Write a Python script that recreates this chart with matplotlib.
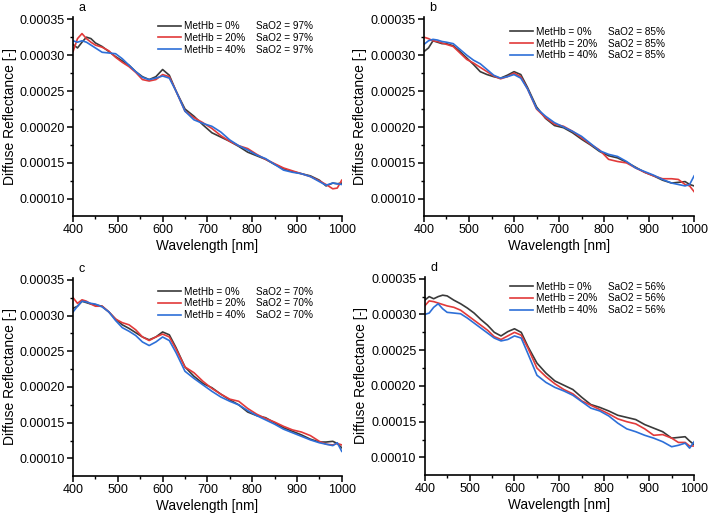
import numpy as np
import matplotlib
matplotlib.use('Agg')
import matplotlib.pyplot as plt
from matplotlib.ticker import MultipleLocator

plt.rcParams['font.family'] = ['Liberation Sans', 'DejaVu Sans']

# wavelength grid [nm]
wl = [400, 410, 420, 430, 440, 450, 465, 480, 495, 510, 525, 540, 555, 570, 585, 600, 615, 630,
      650, 670, 690, 710, 730, 750, 770, 790, 810, 830, 850, 870, 890, 910, 930, 950, 965, 980, 990, 1000]

# diffuse reflectance, units of 1e-5
a_0 = [31.5, 31.0, 31.8, 32.5, 32.3, 31.7, 31.2, 30.5, 29.8, 29.2, 28.6, 27.7, 27.0, 26.6, 27.0, 28.0, 27.2, 25.0,
       22.5, 21.5, 20.3, 19.2, 18.6, 18.0, 17.3, 16.5, 16.0, 15.5, 14.8, 14.2, 13.8, 13.5, 13.2, 12.6, 11.8, 12.2, 12.1, 12.2]
a_20 = [30.5, 32.3, 33.0, 32.3, 31.8, 31.4, 31.1, 30.6, 29.7, 29.0, 28.4, 27.6, 26.6, 26.4, 26.6, 27.3, 27.0, 25.0,
        22.2, 21.3, 20.6, 19.8, 18.8, 18.0, 17.4, 17.0, 16.2, 15.5, 14.9, 14.3, 13.9, 13.5, 13.1, 12.5, 12.0, 11.4, 11.5, 12.6]
a_40 = [32.0, 31.8, 32.0, 31.8, 31.4, 31.0, 30.4, 30.3, 30.2, 29.5, 28.6, 27.7, 26.9, 26.6, 26.8, 27.1, 26.8, 25.0,
        22.2, 21.0, 20.5, 20.1, 19.3, 18.2, 17.4, 16.8, 16.1, 15.6, 14.8, 14.0, 13.7, 13.5, 13.1, 12.4, 11.9, 12.2, 12.1, 12.0]

b_0 = [30.5, 31.0, 32.0, 31.8, 31.6, 31.6, 31.3, 30.5, 29.6, 28.7, 27.7, 27.3, 27.0, 26.8, 27.2, 27.7, 27.3, 25.5,
       22.8, 21.2, 20.2, 19.9, 19.2, 18.3, 17.5, 16.6, 16.0, 15.7, 15.1, 14.4, 13.7, 13.2, 12.6, 12.2, 12.3, 12.4, 12.0, 11.8]
b_20 = [32.5, 32.3, 32.0, 31.9, 31.7, 31.5, 31.2, 30.3, 29.4, 28.9, 28.3, 27.7, 27.1, 26.7, 27.0, 27.5, 27.0, 25.3,
        22.5, 21.3, 20.4, 20.1, 19.4, 18.5, 17.6, 16.8, 15.5, 15.2, 15.0, 14.3, 13.7, 13.2, 12.8, 12.8, 12.7, 12.0, 11.8, 11.0]
b_40 = [31.5, 32.0, 32.2, 32.1, 31.9, 31.8, 31.6, 30.8, 30.0, 29.3, 28.8, 28.0, 27.2, 26.8, 27.0, 27.3, 26.8, 25.3,
        22.6, 21.5, 20.6, 20.0, 19.4, 18.7, 17.7, 16.7, 16.2, 15.9, 15.2, 14.3, 13.8, 13.3, 12.7, 12.2, 12.0, 11.8, 12.0, 13.2]

c_0 = [31.0, 31.3, 32.0, 31.8, 31.6, 31.5, 31.3, 30.5, 29.5, 28.7, 28.2, 27.6, 27.0, 26.6, 27.0, 27.7, 27.3, 25.5,
       22.8, 21.5, 20.5, 19.9, 19.0, 18.2, 17.5, 16.5, 16.0, 15.7, 15.0, 14.3, 13.8, 13.3, 12.7, 12.3, 12.3, 12.4, 12.1, 11.5]
c_20 = [32.5, 31.7, 32.2, 32.0, 31.6, 31.3, 31.3, 30.5, 29.5, 29.0, 28.7, 28.0, 27.0, 26.5, 27.0, 27.4, 27.0, 25.3,
        22.8, 22.0, 20.8, 19.8, 19.0, 18.3, 18.0, 17.0, 16.2, 15.6, 15.1, 14.5, 14.0, 13.7, 13.2, 12.4, 12.0, 11.9, 12.1, 11.9]
c_40 = [30.5, 31.3, 32.0, 31.9, 31.7, 31.6, 31.2, 30.5, 29.3, 28.3, 27.8, 27.2, 26.3, 25.8, 26.3, 27.0, 26.5, 24.8,
        22.2, 21.2, 20.3, 19.4, 18.6, 18.0, 17.5, 16.7, 16.0, 15.4, 14.8, 14.1, 13.6, 13.1, 12.6, 12.2, 12.0, 11.8, 12.2, 11.0]

d_0 = [32.0, 32.5, 32.2, 32.5, 32.7, 32.6, 32.0, 31.5, 30.9, 30.2, 29.3, 28.5, 27.5, 27.0, 27.6, 28.0, 27.5, 25.5,
       23.2, 21.8, 20.7, 20.1, 19.5, 18.4, 17.4, 17.0, 16.5, 15.9, 15.6, 15.3, 14.6, 14.1, 13.6, 12.7, 12.8, 12.9, 12.3, 11.8]
d_20 = [31.2, 31.9, 31.8, 31.6, 31.4, 31.2, 31.0, 30.6, 29.9, 29.2, 28.5, 27.8, 26.9, 26.5, 27.0, 27.5, 27.1, 25.3,
        22.5, 21.3, 20.3, 19.5, 18.9, 17.9, 17.3, 16.7, 16.1, 15.4, 15.0, 14.7, 14.0, 13.1, 13.2, 12.7, 12.1, 12.1, 11.6, 11.6]
d_40 = [30.0, 30.2, 31.0, 31.5, 30.8, 30.3, 30.2, 30.1, 29.5, 28.8, 28.1, 27.4, 26.7, 26.3, 26.5, 27.0, 26.7, 24.5,
        21.5, 20.5, 19.8, 19.3, 18.7, 17.8, 16.9, 16.5, 15.8, 14.8, 14.0, 13.6, 13.1, 12.7, 12.2, 11.5, 11.7, 12.0, 11.3, 12.2]

metHb = ['0%', '20%', '40%']
sao2 = ['97%', '85%', '70%', '56%']
panel_names = ['a', 'b', 'c', 'd']
panels = [[a_0, a_20, a_40], [b_0, b_20, b_40], [c_0, c_20, c_40], [d_0, d_20, d_40]]
colors = ['#3a3a3a', '#e23a3a', '#2d6fd8']

# axes placement [left, bottom, width, height] and legend anchor y
boxes = [[0.103, 0.582, 0.379, 0.385], [0.598, 0.582, 0.381, 0.385],
         [0.103, 0.080, 0.379, 0.383], [0.599, 0.082, 0.380, 0.383]]
leg_y = [0.98, 0.951, 0.955, 0.975]

fig = plt.figure(figsize=(7.09, 5.17), dpi=100)
axes = []
for i in range(4):
    ax = fig.add_axes(boxes[i])
    for j in range(3):
        ax.plot(wl, np.array(panels[i][j]) * 1e-5, color=colors[j], lw=1.2,
                label='MetHb = ' + metHb[j])
    ax.set_xlim(400, 1000)
    ax.set_ylim(7.6e-5, 3.53e-4)
    ax.xaxis.set_major_locator(MultipleLocator(100))
    ax.xaxis.set_minor_locator(MultipleLocator(50))
    ax.yaxis.set_major_locator(MultipleLocator(5e-5))
    ax.yaxis.set_minor_locator(MultipleLocator(2.5e-5))
    ax.yaxis.set_major_formatter(plt.FuncFormatter(lambda v, p: '%.5f' % v))
    ax.spines['top'].set_visible(False)
    ax.spines['right'].set_visible(False)
    ax.spines['left'].set_linewidth(1.2)
    ax.spines['bottom'].set_linewidth(1.2)
    ax.tick_params(which='major', direction='out', length=4, width=1.1, labelsize=9, pad=2)
    ax.tick_params(which='minor', direction='out', length=2, width=1.0)
    ax.set_xlabel('Wavelength [nm]', fontsize=9.8, labelpad=2)
    ax.set_ylabel('Diffuse Reflectance [-]', fontsize=10, labelpad=2)
    ax.text(0.02, 1.015, panel_names[i], transform=ax.transAxes, fontsize=9, va='bottom')
    leg = ax.legend(loc='upper left', bbox_to_anchor=(0.318, leg_y[i]), frameon=False,
                    fontsize=7.2, handlelength=2.3, handletextpad=0.3, labelspacing=0.18,
                    borderpad=0, borderaxespad=0)
    axes.append((ax, leg))

fig.canvas.draw()
for i, (ax, leg) in enumerate(axes):
    inv = ax.transAxes.inverted()
    for t in leg.get_texts():
        bb = t.get_window_extent()
        y = inv.transform(((bb.x0 + bb.x1) / 2, (bb.y0 + bb.y1) / 2))[1]
        ax.text(0.68, y, 'SaO2 = ' + sao2[i], transform=ax.transAxes, fontsize=7.2, va='center')

fig.savefig('out.png', dpi=100)
